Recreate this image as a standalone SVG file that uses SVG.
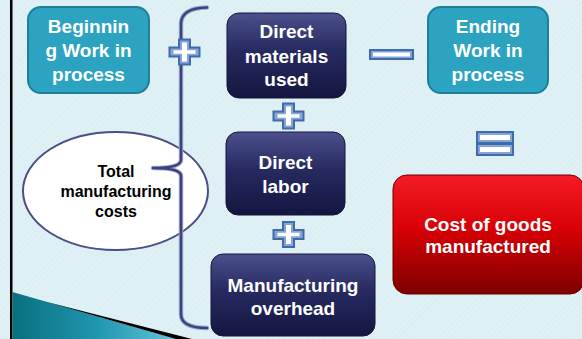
<svg xmlns="http://www.w3.org/2000/svg" width="582" height="339" viewBox="0 0 582 339">
  <defs>
    <linearGradient id="navy" x1="0" y1="0" x2="0" y2="1">
      <stop offset="0" stop-color="#4c508c"/>
      <stop offset="0.45" stop-color="#262a60"/>
      <stop offset="1" stop-color="#141640"/>
    </linearGradient>
    <linearGradient id="red" x1="0" y1="0" x2="0" y2="1">
      <stop offset="0" stop-color="#f51c26"/>
      <stop offset="0.45" stop-color="#d80006"/>
      <stop offset="1" stop-color="#7e0000"/>
    </linearGradient>
    <linearGradient id="wedge" x1="0" y1="0" x2="1" y2="0">
      <stop offset="0" stop-color="#08707f"/>
      <stop offset="0.5" stop-color="#1f94ae"/>
      <stop offset="1" stop-color="#62c4da"/>
    </linearGradient>
    <pattern id="hatch" width="4" height="4" patternUnits="userSpaceOnUse" patternTransform="rotate(45)">
      <rect width="4" height="4" fill="#dff1f5"/>
      <line x1="0" y1="0" x2="0" y2="4" stroke="#d2e9ef" stroke-width="1"/>
    </pattern>
    <!-- operator glyph shapes, centred on 0,0 -->
    <path id="plus-outer" d="M-5.5,-12.5 h11 v8 h9.5 v9 h-9.5 v8 h-11 v-8 h-9.5 v-9 h9.5 z"/>
    <path id="plus-inner" d="M-2.5,-9.5 h5 v7.75 h8.5 v3.5 h-8.5 v7.75 h-5 v-7.75 h-8.5 v-3.5 h8.5 z"/>
  </defs>
  <style>
    .teal { fill: #2ca4c1; stroke: #1f7f99; stroke-width: 2; }
    .navy { fill: url(#navy); stroke: #15173a; stroke-width: 1; }
    .red { fill: url(#red); stroke: #6a0000; stroke-width: 1; }
    .lbl { font-family: "Liberation Sans", Arial, sans-serif; font-weight: bold; font-size: 19px; fill: #ffffff; text-anchor: middle; }
    .blk { font-family: "Liberation Sans", Arial, sans-serif; font-weight: bold; font-size: 16px; fill: #000000; text-anchor: middle; }
    .op { fill: #86a6d6; stroke: #3f6aac; stroke-width: 2; stroke-linejoin: miter; }
    .op-in { fill: #ffffff; }
    .brace-under { fill: none; stroke: #a3a8cc; stroke-width: 4.5; stroke-linecap: round; stroke-linejoin: round; }
    .brace { fill: none; stroke: #3d4180; stroke-width: 2.5; stroke-linecap: round; stroke-linejoin: round; }
  </style>

  <!-- page background -->
  <rect x="0" y="0" width="582" height="339" fill="url(#hatch)"/>
  <rect x="10" y="0" width="2.5" height="339" fill="#000000"/>

  <!-- corner swoosh -->
  <polygon points="12.5,292 176,339 12.5,339" fill="url(#wedge)"/>
  <polygon points="45,301.5 192,339 176,339" fill="#000000"/>

  <!-- summary bubble -->
  <g id="total-costs">
    <ellipse cx="115.5" cy="191" rx="92.5" ry="59" fill="#ffffff" stroke="#4a4d86" stroke-width="2"/>
    <text class="blk" x="116" y="177">Total</text>
    <text class="blk" x="116" y="197">manufacturing</text>
    <text class="blk" x="116" y="217">costs</text>
  </g>

  <g id="connectors">
    <!-- curly brace grouping the three cost items -->
    <path class="brace-under" d="M207,7.5 Q181,8 181,24 L181,160 Q181,168 153,168 Q181,168 181,176 L181,314 Q181,328 207,328"/>
    <path class="brace" d="M207,7.5 Q181,8 181,24 L181,160 Q181,168 153,168 Q181,168 181,176 L181,314 Q181,328 207,328"/>
  </g>

  <g id="begin-wip">
    <rect class="teal" x="28" y="7" width="121" height="86" rx="13"/>
    <text class="lbl" x="88.5" y="33">Beginnin</text>
    <text class="lbl" x="88.5" y="57">g Work in</text>
    <text class="lbl" x="88.5" y="81">process</text>
  </g>

  <g id="plus-1" transform="translate(184.5,52)">
    <use href="#plus-outer" class="op"/>
    <use href="#plus-inner" class="op-in"/>
  </g>

  <g id="direct-materials">
    <rect class="navy" x="227" y="13" width="119" height="85" rx="12"/>
    <text class="lbl" x="286.5" y="38">Direct</text>
    <text class="lbl" x="286.5" y="63">materials</text>
    <text class="lbl" x="286.5" y="86">used</text>
  </g>

  <g id="minus">
    <rect class="op" x="370" y="50" width="43" height="9"/>
    <rect class="op-in" x="373" y="52.5" width="37" height="4"/>
  </g>

  <g id="end-wip">
    <rect class="teal" x="428" y="7" width="120" height="86" rx="13"/>
    <text class="lbl" x="488" y="33">Ending</text>
    <text class="lbl" x="488" y="57">Work in</text>
    <text class="lbl" x="488" y="81">process</text>
  </g>

  <g id="plus-2" transform="translate(288.5,116)">
    <use href="#plus-outer" class="op"/>
    <use href="#plus-inner" class="op-in"/>
  </g>

  <g id="direct-labor">
    <rect class="navy" x="226" y="132" width="119" height="83" rx="12"/>
    <text class="lbl" x="285.5" y="169">Direct</text>
    <text class="lbl" x="285.5" y="193">labor</text>
  </g>

  <g id="plus-3" transform="translate(288.5,234.5)">
    <use href="#plus-outer" class="op"/>
    <use href="#plus-inner" class="op-in"/>
  </g>

  <g id="overhead">
    <rect class="navy" x="211" y="254" width="164" height="82" rx="12"/>
    <text class="lbl" x="293" y="292">Manufacturing</text>
    <text class="lbl" x="293" y="315">overhead</text>
  </g>

  <g id="equals">
    <rect class="op" x="477" y="132" width="36" height="11"/>
    <rect class="op" x="477" y="144" width="36" height="11"/>
    <rect class="op-in" x="480" y="135" width="30" height="5"/>
    <rect class="op-in" x="480" y="147" width="30" height="5"/>
  </g>

  <g id="cogm">
    <rect class="red" x="393" y="175" width="191" height="119" rx="14"/>
    <text class="lbl" x="488" y="231">Cost of goods</text>
    <text class="lbl" x="488" y="253">manufactured</text>
  </g>
</svg>
